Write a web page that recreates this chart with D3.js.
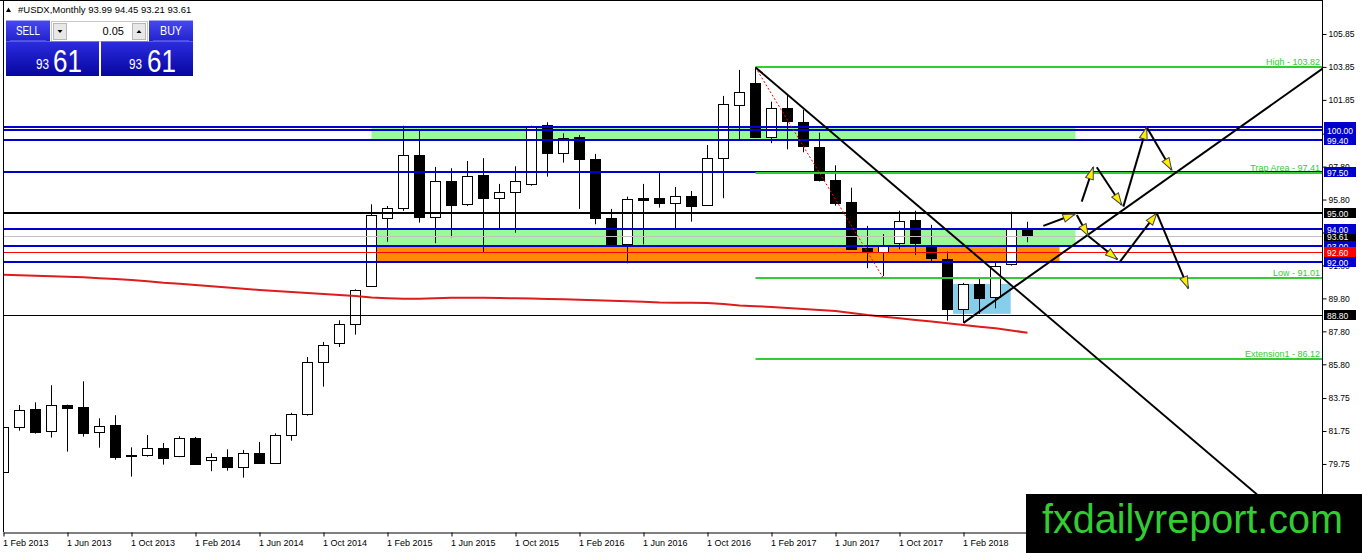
<!DOCTYPE html>
<html>
<head>
<meta charset="utf-8">
<title>USDX Monthly</title>
<script src="https://d3js.org/d3.v7.min.js"></script>
<style>
body { margin: 0; background: #fff; }
text { font-family: "Liberation Sans", Arial, sans-serif; }
</style>
</head>
<body>
<script>
// monthly candles, Feb 2013 .. Jun 2018
var open  = [79.25, 81.98, 83.09, 81.71, 83.33, 83.21, 81.67, 82.12, 80.28, 80.28,
             80.70, 80.19, 81.33, 79.97, 80.16, 79.53, 80.42, 79.79, 81.49, 82.74,
             85.92, 87.08, 88.23, 90.57, 94.66, 95.31, 98.51, 94.76, 96.93, 95.55,
             97.29, 95.91, 96.24, 96.70, 100.33, 98.61, 99.58, 98.24, 94.66, 93.10,
             95.88, 95.88, 95.55, 96.02, 95.47, 98.31, 101.58, 102.86, 99.58, 101.34,
             100.49, 98.97, 96.99, 95.63, 92.84, 92.60, 93.18, 94.54, 93.00, 92.17,
             89.14, 90.68, 89.90, 91.89, 93.99];
var high  = [82.10, 83.33, 83.49, 84.53, 83.35, 84.77, 82.52, 82.71, 80.76, 81.51,
             81.02, 81.43, 81.39, 80.40, 80.64, 80.60, 81.09, 81.61, 82.85, 86.24,
             87.16, 88.47, 90.35, 95.51, 95.41, 100.28, 99.98, 97.78, 97.70, 98.14,
             98.31, 96.75, 97.82, 100.28, 100.49, 99.82, 99.72, 98.57, 95.23, 95.98,
             96.75, 97.49, 96.56, 96.32, 99.11, 102.09, 103.67, 103.82, 101.74, 102.15,
             101.24, 99.86, 97.88, 96.52, 94.20, 93.71, 95.12, 95.12, 94.26, 92.64,
             90.74, 91.02, 92.07, 95.06, 94.45];
var low   = [78.94, 81.77, 81.59, 81.35, 80.50, 81.41, 80.74, 80.01, 78.98, 80.19,
             79.71, 80.16, 79.71, 79.31, 79.34, 78.92, 79.79, 79.75, 81.16, 82.68,
             84.44, 86.85, 87.60, 90.51, 93.24, 95.11, 94.40, 93.15, 93.51, 95.41,
             92.58, 94.06, 93.79, 96.64, 97.19, 98.04, 95.23, 94.30, 92.98, 91.93,
             93.08, 95.31, 94.06, 94.46, 95.41, 95.88, 99.48, 99.53, 99.22, 98.85,
             98.67, 96.90, 95.43, 92.74, 91.63, 91.16, 92.78, 92.44, 92.07, 88.45,
             88.31, 88.86, 89.20, 91.79, 93.21];
var close = [82.01, 83.01, 81.69, 83.31, 83.17, 81.65, 82.04, 80.19, 80.25, 80.70,
             80.07, 81.31, 79.77, 80.16, 79.53, 80.40, 79.83, 81.49, 82.77, 85.92,
             86.96, 88.23, 90.29, 94.85, 95.27, 98.51, 94.76, 96.93, 95.49, 97.23,
             95.90, 96.26, 96.93, 100.19, 98.65, 99.52, 98.22, 94.64, 93.10, 95.82,
             95.77, 95.55, 96.00, 95.41, 98.31, 101.58, 102.35, 99.56, 101.34, 100.53,
             99.01, 96.95, 95.61, 92.78, 92.64, 92.98, 94.52, 93.12, 92.27, 89.14,
             90.68, 89.84, 91.79, 94.01, 93.61];
// moving average
var ma = [91.24, 91.21, 91.18, 91.14, 91.11, 91.08, 91.02, 90.97, 90.92, 90.84,
          90.75, 90.69, 90.61, 90.54, 90.46, 90.38, 90.31, 90.25, 90.19, 90.13,
          90.07, 90.01, 89.95, 89.86, 89.81, 89.78, 89.78, 89.81, 89.84, 89.84,
          89.84, 89.82, 89.81, 89.79, 89.77, 89.75, 89.72, 89.69, 89.66, 89.63,
          89.60, 89.55, 89.54, 89.53, 89.52, 89.46, 89.37, 89.33, 89.28, 89.22,
          89.16, 89.10, 89.04, 88.92, 88.79, 88.69, 88.59, 88.49, 88.39, 88.29,
          88.19, 88.08, 87.99, 87.85, 87.72];

var xTickLabels = ["1 Feb 2013", "1 Jun 2013", "1 Oct 2013", "1 Feb 2014", "1 Jun 2014", "1 Oct 2014",
                   "1 Feb 2015", "1 Jun 2015", "1 Oct 2015", "1 Feb 2016", "1 Jun 2016", "1 Oct 2016",
                   "1 Feb 2017", "1 Jun 2017", "1 Oct 2017", "1 Feb 2018"];
var yTicks = [105.85, 103.85, 101.85, 99.80, 97.80, 95.80, 93.80, 91.80, 89.80, 87.80, 85.80, 83.75, 81.75, 79.75, 77.75];

var blueLevels = [100.20, 100.00, 99.40, 97.50, 94.00, 93.00, 92.00];
var blackLevels = [95.00, 88.80];
var redLevel = 92.60;
var bidPrice = 93.61;

var fibLevels = [103.82, 97.41, 91.01, 86.12];
var fibNames = ["High", "Trap Area", "Low", "Extension1"];

// zones: [from bar, to bar, top, bottom]
var zoneFrom = [23, 23, 23, 59.35];
var zoneTo = [67, 67, 66, 62.95];
var zoneTop = [100.20, 94.00, 93.00, 90.68];
var zoneBottom = [99.40, 93.00, 92.00, 88.86];

var trendDown = [[47, 103.82], [66.03, 88.08]];
var trendUp = [[60, 88.31], [82.39, 103.71]];
var fibBase = [[47, 103.82], [55, 91.01]];

// projected path arrows: [bar1, price1, bar2, price2]
var arrows = [
    [64.99, 94.20, 66.97, 94.92],
    [67.08, 94.86, 67.80, 93.59],
    [67.80, 93.59, 69.61, 92.17],
    [69.78, 92.03, 72.08, 94.97],
    [72.08, 94.97, 74.05, 90.41],
    [67.39, 95.67, 68.11, 97.76],
    [68.33, 97.76, 69.89, 95.47],
    [69.99, 95.37, 71.45, 100.19],
    [71.49, 100.13, 73.01, 97.60]
];

var W = 1362, H = 553;
var plotL = 3, plotR = 1322, plotB = 532;

var x = d3.scaleLinear().domain([-0.03125, 82.40625]).range([plotL, plotR]);
var y = d3.scaleLinear().domain([75.62, 107.73]).range([plotB, 3]);

var svg = d3.select("body").append("svg")
    .attr("width", W)
    .attr("height", H);

svg.append("rect").attr("width", W).attr("height", H).attr("fill", "#fff");

var defs = svg.append("defs");
defs.append("clipPath").attr("id", "plot")
    .append("rect")
    .attr("x", plotL).attr("y", 0)
    .attr("width", plotR - plotL).attr("height", plotB);

var pg = defs.append("linearGradient").attr("id", "panelGrad")
    .attr("x1", 0).attr("y1", 0).attr("x2", 0).attr("y2", 1);
pg.append("stop").attr("offset", "0%").attr("stop-color", "#2c2ce0");
pg.append("stop").attr("offset", "100%").attr("stop-color", "#0606a0");
var bg = defs.append("linearGradient").attr("id", "btnGrad")
    .attr("x1", 0).attr("y1", 0).attr("x2", 0).attr("y2", 1);
bg.append("stop").attr("offset", "0%").attr("stop-color", "#4848f2");
bg.append("stop").attr("offset", "100%").attr("stop-color", "#2222cc");

defs.append("marker").attr("id", "head")
    .attr("viewBox", "0 0 14 10")
    .attr("refX", 13).attr("refY", 5)
    .attr("markerWidth", 14).attr("markerHeight", 10)
    .attr("markerUnits", "userSpaceOnUse")
    .attr("orient", "auto")
    .append("path")
    .attr("d", "M1,1 L13,5 L1,9 Z")
    .attr("fill", "#ffee00")
    .attr("stroke", "#444")
    .attr("stroke-width", 1);

var g = svg.append("g").attr("clip-path", "url(#plot)");

// zones (background)
var zoneColors = ["#98fb98", "#98fb98", "#ff8c00", "#87ceeb"];
g.selectAll(".zone")
    .data(zoneFrom)
    .enter()
    .append("rect")
    .attr("class", "zone")
    .attr("x", function(d) { return x(d); })
    .attr("width", function(d, i) { return x(zoneTo[i]) - x(d); })
    .attr("y", function(d, i) { return y(zoneTop[i]); })
    .attr("height", function(d, i) { return y(zoneBottom[i]) - y(zoneTop[i]); })
    .attr("fill", function(d, i) { return zoneColors[i]; });

// candles
var bars = d3.range(open.length).map(function(i) {
    return { i: i, o: open[i], h: high[i], l: low[i], c: close[i] };
});

g.selectAll(".wick")
    .data(bars)
    .enter()
    .append("line")
    .attr("class", "wick")
    .attr("x1", function(d) { return x(d.i); })
    .attr("x2", function(d) { return x(d.i); })
    .attr("y1", function(d) { return y(d.h); })
    .attr("y2", function(d) { return y(d.l); })
    .attr("stroke", "#000")
    .attr("stroke-width", 1);

g.selectAll(".body")
    .data(bars)
    .enter()
    .append("rect")
    .attr("class", "body")
    .attr("x", function(d) { return x(d.i) - 5; })
    .attr("width", 10)
    .attr("y", function(d) { return Math.round(y(Math.max(d.o, d.c))) + 0.5; })
    .attr("height", function(d) { return Math.max(1, Math.round(Math.abs(y(d.o) - y(d.c)))); })
    .attr("fill", function(d) { return d.c >= d.o ? "#fff" : "#000"; })
    .attr("stroke", "#000")
    .attr("stroke-width", 1);

// moving average
g.append("path")
    .datum(ma)
    .attr("d", d3.line()
        .x(function(d, i) { return x(i); })
        .y(function(d) { return y(d); }))
    .attr("fill", "none")
    .attr("stroke", "#dd1c1c")
    .attr("stroke-width", 2);

// horizontal levels
g.append("line")
    .attr("x1", plotL).attr("x2", plotR)
    .attr("y1", Math.round(y(bidPrice)) + 0.5).attr("y2", Math.round(y(bidPrice)) + 0.5)
    .attr("stroke", "#c0c0c0").attr("stroke-width", 1);

g.append("line")
    .attr("x1", plotL).attr("x2", plotR)
    .attr("y1", Math.round(y(redLevel)) + 0.5).attr("y2", Math.round(y(redLevel)) + 0.5)
    .attr("stroke", "#ff0000").attr("stroke-width", 1);

g.selectAll(".blue")
    .data(blueLevels)
    .enter()
    .append("line")
    .attr("class", "blue")
    .attr("x1", plotL).attr("x2", plotR)
    .attr("y1", function(d) { return Math.round(y(d)); })
    .attr("y2", function(d) { return Math.round(y(d)); })
    .attr("stroke", "#0000cd").attr("stroke-width", 2);

g.selectAll(".blk")
    .data(blackLevels)
    .enter()
    .append("line")
    .attr("class", "blk")
    .attr("x1", plotL).attr("x2", plotR)
    .attr("y1", function(d, i) { return i == 0 ? Math.round(y(d)) : Math.round(y(d)) + 0.5; })
    .attr("y2", function(d, i) { return i == 0 ? Math.round(y(d)) : Math.round(y(d)) + 0.5; })
    .attr("stroke", "#000").attr("stroke-width", function(d, i) { return i == 0 ? 2 : 1; });

// fibonacci levels
g.selectAll(".fib")
    .data(fibLevels)
    .enter()
    .append("line")
    .attr("class", "fib")
    .attr("x1", x(fibBase[0][0])).attr("x2", plotR)
    .attr("y1", function(d) { return Math.round(y(d)); })
    .attr("y2", function(d) { return Math.round(y(d)); })
    .attr("stroke", "#32cd32").attr("stroke-width", 2);

g.selectAll(".fibText")
    .data(fibLevels)
    .enter()
    .append("text")
    .attr("class", "fibText")
    .attr("x", plotR - 2)
    .attr("y", function(d) { return Math.round(y(d)) - 2; })
    .attr("text-anchor", "end")
    .attr("font-size", 9)
    .attr("fill", "#32cd32")
    .text(function(d, i) { return fibNames[i] + " - " + d.toFixed(2); });

g.append("line")
    .attr("x1", x(fibBase[0][0])).attr("y1", y(fibBase[0][1]))
    .attr("x2", x(fibBase[1][0])).attr("y2", y(fibBase[1][1]))
    .attr("stroke", "#ff0000").attr("stroke-width", 1)
    .attr("stroke-dasharray", "2,2");

// trend lines, extended as rays
function ray(p) {
    var k = (p[1][1] - p[0][1]) / (p[1][0] - p[0][0]);
    var far = 95;
    return [p[0], [far, p[0][1] + k * (far - p[0][0])]];
}
[trendDown, trendUp].forEach(function(t) {
    var r = ray(t);
    g.append("line")
        .attr("x1", x(r[0][0])).attr("y1", y(r[0][1]))
        .attr("x2", x(r[1][0])).attr("y2", y(r[1][1]))
        .attr("stroke", "#000").attr("stroke-width", 2);
});

// projection arrows
g.selectAll(".arrow")
    .data(arrows)
    .enter()
    .append("line")
    .attr("class", "arrow")
    .attr("x1", function(d) { return x(d[0]); })
    .attr("y1", function(d) { return y(d[1]); })
    .attr("x2", function(d) { return x(d[2]); })
    .attr("y2", function(d) { return y(d[3]); })
    .attr("stroke", "#000").attr("stroke-width", 2)
    .attr("marker-end", "url(#head)");

// frame
svg.append("line")
    .attr("x1", 0).attr("x2", plotR + 1)
    .attr("y1", 0.5).attr("y2", 0.5)
    .attr("stroke", "#000");
svg.append("line")
    .attr("x1", plotL + 0.5).attr("x2", plotL + 0.5)
    .attr("y1", 0).attr("y2", plotB)
    .attr("stroke", "#000");
svg.append("line")
    .attr("x1", plotR + 0.5).attr("x2", plotR + 0.5)
    .attr("y1", 0).attr("y2", plotB + 0.5)
    .attr("stroke", "#000");

// x axis
var xAxis = d3.axisBottom(x)
    .tickValues(d3.range(0, xTickLabels.length * 4, 4))
    .tickFormat(function(d, i) { return xTickLabels[i]; })
    .tickSize(4)
    .tickSizeOuter(0);

var gx = svg.append("g")
    .attr("transform", "translate(0," + (plotB + 0.5) + ")")
    .call(xAxis);
gx.select(".domain").attr("stroke", "#000");
gx.selectAll(".tick line").attr("stroke", "#000");
gx.selectAll(".tick text")
    .attr("text-anchor", "start")
    .attr("x", -1)
    .attr("font-size", 9)
    .attr("font-family", "Liberation Sans, Arial, sans-serif")
    .attr("fill", "#000");

// y axis
var yAxis = d3.axisRight(y)
    .tickValues(yTicks)
    .tickFormat(d3.format(".2f"))
    .tickSize(4)
    .tickPadding(2)
    .tickSizeOuter(0);

var gy = svg.append("g")
    .attr("transform", "translate(" + (plotR + 0.5) + ",0)")
    .call(yAxis);
gy.select(".domain").remove();
gy.selectAll(".tick line").attr("stroke", "#000");
gy.selectAll(".tick text")
    .attr("font-size", 8.5)
    .attr("font-family", "Liberation Sans, Arial, sans-serif")
    .attr("fill", "#000");

// price labels on the axis
var tags = [{ v: bidPrice, c: "#000" }]
    .concat(blueLevels.map(function(v) { return { v: v, c: "#0000cd" }; }))
    .concat(blackLevels.map(function(v) { return { v: v, c: "#000" }; }))
    .concat([{ v: redLevel, c: "#ff0000" }]);
tags.sort(function(a, b) {
    if (a.v == bidPrice) return -1;
    if (b.v == bidPrice) return 1;
    return b.v - a.v;
});

var tag = svg.selectAll(".tag")
    .data(tags)
    .enter()
    .append("g")
    .attr("class", "tag")
    .attr("transform", function(d) { return "translate(" + (plotR + 2) + "," + Math.round(y(d.v)) + ")"; });
tag.append("rect")
    .attr("x", 0).attr("y", -5)
    .attr("width", 32).attr("height", 10)
    .attr("fill", function(d) { return d.c; });
tag.append("text")
    .attr("x", 3).attr("y", 3.5)
    .attr("font-size", 8.5)
    .attr("fill", "#fff")
    .text(function(d) { return d.v.toFixed(2); });

// header
svg.append("path").attr("d", "M6,12 L11,12 L8.5,7.5 Z").attr("fill", "#000");
svg.append("text")
    .attr("x", 18).attr("y", 13)
    .attr("font-size", 9.5)
    .attr("fill", "#000")
    .text("#USDX,Monthly  " + [open[64], high[64], low[64], close[64]].map(function(d) { return d.toFixed(2); }).join(" "));

// one-click trading panel
var panel = svg.append("g");
panel.append("rect").attr("x", 6).attr("y", 20.5).attr("width", 44).attr("height", 21).attr("fill", "url(#btnGrad)");
panel.append("rect").attr("x", 149).attr("y", 20.5).attr("width", 44).attr("height", 21).attr("fill", "url(#btnGrad)");
panel.append("text").attr("x", 28).attr("y", 35).attr("text-anchor", "middle")
    .attr("font-size", 12).attr("fill", "#fff").attr("textLength", 24).attr("lengthAdjust", "spacingAndGlyphs").text("SELL");
panel.append("text").attr("x", 171).attr("y", 35).attr("text-anchor", "middle")
    .attr("font-size", 12).attr("fill", "#fff").attr("textLength", 22).attr("lengthAdjust", "spacingAndGlyphs").text("BUY");
panel.append("line").attr("x1", 10).attr("x2", 46).attr("y1", 41).attr("y2", 41).attr("stroke", "#7a7af6");
panel.append("line").attr("x1", 153).attr("x2", 189).attr("y1", 41).attr("y2", 41).attr("stroke", "#7a7af6");

panel.append("rect").attr("x", 51.5).attr("y", 21.5).attr("width", 96).attr("height", 20)
    .attr("fill", "#fff").attr("stroke", "#c8c8c8");
panel.append("rect").attr("x", 53.5).attr("y", 23.5).attr("width", 13).attr("height", 16)
    .attr("fill", "#e8e8e8").attr("stroke", "#b8b8b8");
panel.append("rect").attr("x", 132.5).attr("y", 23.5).attr("width", 13).attr("height", 16)
    .attr("fill", "#e8e8e8").attr("stroke", "#b8b8b8");
panel.append("path").attr("d", "M57.5,30 L62.5,30 L60,33 Z").attr("fill", "#000");
panel.append("path").attr("d", "M136.5,33 L141.5,33 L139,30 Z").attr("fill", "#000");
panel.append("text").attr("x", 124).attr("y", 35).attr("text-anchor", "end")
    .attr("font-size", 11).attr("fill", "#000").text("0.05");

panel.append("rect").attr("x", 6).attr("y", 41.5).attr("width", 93).attr("height", 34.5).attr("fill", "url(#panelGrad)");
panel.append("rect").attr("x", 101).attr("y", 41.5).attr("width", 92).attr("height", 34.5).attr("fill", "url(#panelGrad)");

var priceStr = close[64].toFixed(2).split(".");
[[36, 53], [129, 147]].forEach(function(p) {
    panel.append("text").attr("x", p[0]).attr("y", 68.5)
        .attr("font-size", 14).attr("fill", "#fff")
        .attr("textLength", 13).attr("lengthAdjust", "spacingAndGlyphs")
        .text(priceStr[0]);
    panel.append("text").attr("x", p[1]).attr("y", 72)
        .attr("font-size", 31).attr("fill", "#fff")
        .attr("textLength", 29).attr("lengthAdjust", "spacingAndGlyphs")
        .text(priceStr[1]);
});

// watermark
svg.append("rect").attr("x", 1026).attr("y", 494).attr("width", W - 1026).attr("height", H - 494).attr("fill", "#000");
svg.append("text")
    .attr("x", 1042).attr("y", 533)
    .attr("font-size", 40)
    .attr("fill", "#33cc33")
    .attr("textLength", 301).attr("lengthAdjust", "spacingAndGlyphs")
    .text("fxdailyreport.com");
</script>
</body>
</html>
